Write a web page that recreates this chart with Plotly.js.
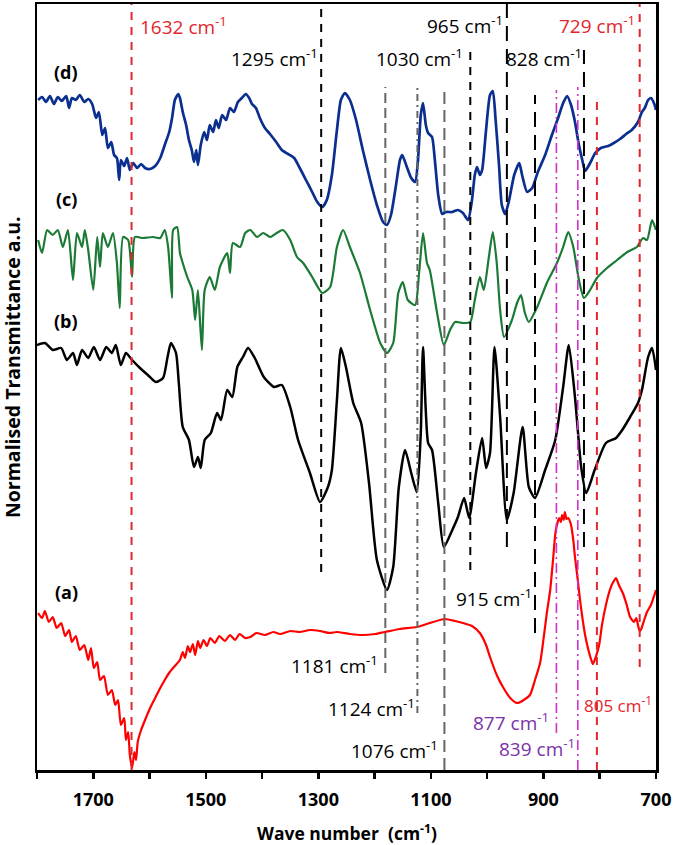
<!DOCTYPE html>
<html>
<head>
<meta charset="utf-8">
<script src="https://cdn.plot.ly/plotly-3.0.1.min.js"></script>
<style>html,body{margin:0;padding:0;background:#fff}#chart{width:675px;height:845px}</style>
</head>
<body>
<div id="chart"></div>
<script>
// ---------- DATA (wavenumber cm-1, normalised transmittance a.u., offset stacked) ----------
const dWn = [1798,1791,1784,1777,1770,1763,1756,1748,1743,1738,1731,1724,1716,1709,1702,1695,1690,1684,1679,1674,1668,1663,1658,1654,1651,1645,1640,1635,1629,1622,1615,1608,1599,1590,1581,1573,1565,1560,1555,1549,1546,1541,1535,1530,1525,1521,1517,1514,1509,1503,1498,1493,1487,1482,1477,1471,1464,1457,1450,1443,1436,1429,1423,1418,1411,1404,1395,1386,1375,1365,1354,1343,1333,1322,1311,1302,1293,1285,1276,1267,1260,1253,1244,1233,1221,1208,1196,1185,1178,1171,1162,1155,1151,1144,1135,1128,1123,1118,1114,1109,1105,1098,1093,1087,1080,1073,1062,1052,1043,1034,1027,1022,1018,1013,1009,1002,995,990,985,979,974,968,961,952,943,938,929,920,910,897,885,874,865,858,851,844,837,831,826,817,808,798,785,775,764,753,743,732,725,720,714,709,703,700];
const dT  = [67.0,67.3,66.8,67.4,66.6,67.3,66.9,67.4,66.2,67.2,67.0,67.5,66.8,67.1,66.6,65.2,65.8,63.5,64.2,62.2,62.8,61.5,61.2,59.0,61.0,60.4,61.2,60.0,60.7,60.2,60.6,60.2,60.1,60.4,61.2,62.5,63.8,65.2,67.0,67.6,67.2,65.8,64.5,63.0,62.0,60.8,62.0,60.5,62.5,63.8,63.0,64.5,63.8,65.0,64.2,65.5,65.0,66.2,65.8,66.8,67.2,67.6,67.2,66.6,66.2,65.2,64.2,63.6,62.8,62.0,61.6,61.2,60.2,59.0,57.8,56.8,56.3,57.0,59.5,64.0,67.0,67.7,67.0,65.0,62.0,59.0,56.5,54.8,54.5,55.5,58.5,61.0,61.5,60.5,59.2,58.8,61.0,65.5,66.7,64.5,63.7,63.3,61.0,57.5,55.6,55.8,55.8,56.0,55.7,55.0,57.0,59.5,60.3,59.5,60.0,64.0,67.5,67.9,65.0,60.5,56.5,55.6,57.0,59.5,60.7,59.5,57.8,58.2,59.8,61.5,63.5,65.2,66.7,67.4,66.5,64.8,62.5,61.0,59.9,60.7,61.7,62.2,62.4,62.7,63.1,63.6,64.0,64.8,65.8,66.2,67.0,67.2,66.6,66.0];

const cWn = [1798,1791,1782,1772,1763,1754,1745,1736,1729,1720,1715,1709,1700,1693,1688,1683,1674,1665,1658,1653,1647,1638,1631,1626,1612,1594,1581,1573,1567,1560,1558,1551,1546,1541,1533,1524,1519,1514,1507,1502,1493,1484,1475,1462,1457,1452,1439,1430,1421,1409,1398,1386,1374,1363,1350,1338,1327,1311,1293,1279,1267,1256,1244,1226,1208,1190,1178,1167,1158,1150,1141,1128,1121,1114,1107,1102,1089,1077,1066,1057,1043,1030,1022,1013,1006,997,990,983,977,970,956,947,940,933,926,911,894,876,865,856,847,837,828,817,805,787,769,751,734,723,716,707,700];
const cT  = [53.0,51.7,54.0,53.5,54.0,52.3,54.0,49.0,53.7,52.3,54.0,52.0,48.0,53.3,50.3,53.7,52.3,53.7,50.7,46.2,53.3,53.0,49.3,53.3,53.2,53.3,53.2,54.0,52.3,47.2,54.0,54.3,51.7,50.7,49.3,48.0,45.0,48.0,42.0,48.0,49.3,48.0,50.3,51.7,49.7,52.7,52.3,53.7,54.0,53.3,53.7,53.3,53.7,54.0,53.0,51.3,50.7,49.3,47.7,48.3,52.3,54.0,52.3,49.7,46.0,42.7,41.7,42.7,47.7,48.8,47.0,46.5,49.7,53.7,50.7,50.0,45.7,42.5,44.0,44.8,44.7,44.8,47.0,49.3,48.0,51.3,53.8,50.7,46.0,43.3,45.0,46.7,47.5,45.7,44.8,46.3,48.7,50.7,52.3,53.8,52.3,49.0,47.2,48.0,49.2,50.2,51.0,51.8,52.3,53.2,53.0,55.0,54.0];

const bWn = [1800,1786,1772,1757,1747,1736,1729,1720,1709,1699,1688,1677,1667,1660,1651,1642,1631,1617,1603,1589,1576,1568,1562,1553,1548,1541,1530,1521,1514,1509,1502,1491,1480,1473,1462,1453,1444,1434,1425,1413,1397,1379,1365,1350,1336,1315,1297,1283,1276,1267,1260,1251,1238,1224,1210,1196,1178,1167,1157,1146,1135,1125,1118,1114,1105,1098,1087,1077,1062,1052,1041,1032,1020,1009,1002,995,987,977,965,953,937,926,915,897,879,865,855,844,833,824,809,789,771,760,746,732,725,714,707,700];
const bT  = [42.5,42.7,42.0,42.2,41.0,41.7,40.5,42.0,41.2,42.3,41.0,42.3,41.7,42.5,40.5,41.7,41.0,40.2,39.5,38.8,39.2,41.3,42.7,41.7,38.7,34.3,33.0,30.3,31.3,30.2,33.0,33.7,35.7,35.0,38.0,37.3,40.3,41.3,42.2,41.2,39.3,38.3,38.5,36.3,33.0,29.7,26.8,28.3,30.0,37.0,42.2,40.3,36.7,34.7,28.7,21.0,18.0,20.3,28.3,32.0,29.7,27.8,33.7,42.3,32.7,32.0,26.7,22.3,24.0,25.3,27.2,25.2,29.7,33.2,30.2,31.7,42.3,35.3,25.0,27.7,34.3,28.3,27.2,30.0,33.0,38.3,42.5,37.3,30.3,27.7,30.0,32.7,33.2,34.0,35.3,36.7,38.0,41.3,42.2,40.0];

const aWn = [1798,1791,1786,1779,1772,1765,1757,1750,1743,1738,1731,1724,1716,1709,1704,1699,1693,1688,1681,1674,1667,1661,1656,1651,1645,1642,1638,1635,1631,1627,1624,1621,1615,1608,1599,1590,1581,1573,1564,1555,1546,1541,1537,1532,1528,1523,1519,1514,1510,1504,1498,1492,1484,1476,1466,1457,1448,1440,1430,1421,1410,1395,1380,1368,1350,1333,1315,1297,1280,1267,1244,1221,1199,1182,1155,1125,1102,1075,1057,1043,1027,1013,1002,995,983,972,959,947,935,924,915,906,899,894,888,883,878,872,869,867,864,862,859,856,851,847,844,839,835,831,826,821,815,812,807,801,796,789,782,777,771,766,759,752,746,739,735,732,729,727,721,716,709,704,700];
const aT  = [15.7,15.2,15.9,14.8,15.3,14.2,14.7,13.4,14.0,12.8,13.4,12.0,12.5,11.0,12.2,10.2,10.8,9.0,9.4,7.5,8.0,6.5,7.0,4.5,5.2,3.0,3.8,1.5,0.2,1.8,1.0,2.8,4.0,5.0,6.2,7.2,8.2,9.0,9.8,10.4,11.0,11.8,11.2,12.4,11.8,12.6,11.5,12.9,12.2,13.0,12.4,13.2,12.7,13.4,12.9,13.5,13.0,13.6,13.2,13.3,13.7,13.5,13.8,13.6,13.9,13.8,14.0,13.9,13.7,13.8,13.6,13.5,13.6,13.8,14.1,14.3,14.7,15.1,14.9,14.7,14.4,13.7,12.5,11.3,9.5,8.3,7.2,6.7,7.0,7.5,9.0,10.7,13.5,15.7,18.0,21.0,24.0,25.2,24.8,25.5,25.0,25.8,25.1,25.2,24.5,23.0,21.3,19.0,17.0,15.3,13.5,12.2,11.0,10.6,11.3,12.5,14.5,16.5,18.0,18.7,19.2,18.5,17.7,16.5,15.3,14.8,15.2,14.5,13.9,14.0,15.0,15.8,16.5,17.3,18.0];

// band markers (wavenumbers) and their labels
const bandWn    = [1632, 1295, 1181, 1124, 1076, 1030, 965, 915, 877, 839, 828, 805, 729];
const bandLabel = ['1632 cm<sup>-1</sup>','1295 cm<sup>-1</sup>','1181 cm<sup>-1</sup>','1124 cm<sup>-1</sup>','1076 cm<sup>-1</sup>','1030 cm<sup>-1</sup>','965 cm<sup>-1</sup>','915 cm<sup>-1</sup>','877 cm<sup>-1</sup>','839 cm<sup>-1</sup>','828 cm<sup>-1</sup>','805 cm<sup>-1</sup>','729 cm<sup>-1</sup>'];
const seriesNames = ['(d)','(c)','(b)','(a)'];
const xTickVals = [1800,1700,1600,1500,1400,1300,1200,1100,1000,900,800,700];
const xTickText = ['','1700','','1500','','1300','','1100','','900','','700'];

// ---------- STYLE / LAYOUT CONFIG ----------
const RED = '#e3262d', PURPLE = '#7a32a8', MAG = '#cc33cc', GREY = '#666666';
const bandStyle = {
  1632:{c:RED,d:'8px,7px',y0:0,y1:76.6, lx:1620,ly:74.4,la:'left',lc:RED,fs:19},
  1295:{c:'#000',d:'8px,7px',y0:19.8,y1:76.6, lx:1297,ly:71.2,la:'right',lc:'#000',fs:19},
  1181:{c:GREY,d:'10px,5px',y0:9.7,y1:68.3, lx:1190,ly:10.5,la:'right',lc:'#000',fs:19},
  1124:{c:GREY,d:'7px,4px,2px,4px',y0:5.7,y1:68.3, lx:1125,ly:6.2,la:'right',lc:'#000',fs:19},
  1076:{c:GREY,d:'12px,6px',y0:0,y1:68.3, lx:1084,ly:2.0,la:'right',lc:'#000',fs:19},
  1030:{c:'#000',d:'8px,7px',y0:20.0,y1:72.2, lx:1039,ly:71.2,la:'right',lc:'#000',fs:19},
  965: {c:'#000',d:'15px,8px',y0:22.3,y1:76.6, lx:968,ly:74.5,la:'right',lc:'#000',fs:19},
  915: {c:'#000',d:'15px,8px',y0:13.7,y1:67.5, lx:1059,ly:17.2,la:'left',lc:'#000',fs:19},
  877: {c:MAG,d:'10px,4px,2px,4px',y0:3.7,y1:68.0, lx:886,ly:4.8,la:'right',lc:PURPLE,fs:19},
  839: {c:MAG,d:'10px,4px,2px,4px',y0:0,y1:68.3, lx:840,ly:2.2,la:'right',lc:PURPLE,fs:19},
  828: {c:'#000',d:'15px,8px',y0:22.3,y1:72.0, lx:828,ly:71.2,la:'right',lc:'#000',fs:19},
  805: {c:RED,d:'8px,7px',y0:0,y1:67.3, lx:831,ly:6.6,la:'left',lc:RED,fs:17},
  729: {c:RED,d:'8px,7px',y0:10.3,y1:76.6, lx:733,ly:74.5,la:'right',lc:RED,fs:19}
};
const seriesLabelPos = [[1748,69.8],[1748,57.1],[1748,44.9],[1748,17.8]];

const FONT = 'Open Sans, DejaVu Sans, sans-serif';
const SM = {shape:'spline',smoothing:0.6};

const traces = [
  {x:dWn,y:dT,mode:'lines',line:Object.assign({color:'#0b2f8f',width:2.7},SM),name:'(d)'},
  {x:cWn,y:cT,mode:'lines',line:Object.assign({color:'#1b7a35',width:2.2},SM),name:'(c)'},
  {x:bWn,y:bT,mode:'lines',line:Object.assign({color:'#000000',width:2.5},SM),name:'(b)'},
  {x:aWn,y:aT,mode:'lines',line:Object.assign({color:'#ff0000',width:2.2},SM),name:'(a)'}
];

const shapes = bandWn.map(w => {
  const s = bandStyle[w];
  return {type:'line',xref:'x',yref:'y',x0:w,x1:w,y0:s.y0,y1:s.y1,
          line:{color:s.c,width:s.c===MAG?1.6:2,dash:s.d},layer:'above'};
});

const annotations = bandWn.map((w,i) => {
  const s = bandStyle[w];
  return {xref:'x',yref:'y',x:s.lx,y:s.ly,text:bandLabel[i],showarrow:false,
          xanchor:s.la,yanchor:'middle',font:{family:FONT,size:s.fs,color:s.lc}};
});
seriesNames.forEach((n,i)=>{
  annotations.push({xref:'x',yref:'y',x:seriesLabelPos[i][0],y:seriesLabelPos[i][1],text:'<b>'+n+'</b>',
    showarrow:false,xanchor:'center',yanchor:'middle',font:{family:FONT,size:18,color:'#000'}});
});
annotations.push({xref:'paper',yref:'paper',x:-0.0404,y:0.526,text:'<b>Normalised Transmittance a.u.</b>',
  textangle:-90,showarrow:false,xanchor:'center',yanchor:'middle',font:{family:FONT,size:19.5,color:'#000'}});
annotations.push({xref:'paper',yref:'paper',x:0.5,y:-0.082,text:'<b>Wave number  (cm<sup>-1</sup>)</b>',
  showarrow:false,xanchor:'center',yanchor:'middle',font:{family:FONT,size:17.5,color:'#000'}});

const layout = {
  width:675,height:845,
  margin:{l:37,r:19,t:4,b:75},
  paper_bgcolor:'#fff',plot_bgcolor:'#fff',
  showlegend:false,
  xaxis:{range:[1800,700],showgrid:false,zeroline:false,showline:true,mirror:true,linecolor:'#000',linewidth:2.5,
    tickmode:'array',tickvals:xTickVals,ticktext:xTickText,ticks:'outside',ticklen:6,tickwidth:2.5,tickcolor:'#000',
    ticklabelstandoff:6,
    tickfont:{family:FONT,size:18,color:'#000',weight:'bold'}},
  yaxis:{range:[0,76.6],showgrid:false,zeroline:false,showline:true,mirror:true,linecolor:'#000',linewidth:2.5,
    ticks:'',showticklabels:false},
  shapes:shapes,
  annotations:annotations
};

Plotly.newPlot('chart',traces,layout,{displayModeBar:false,staticPlot:true});
</script>
</body>
</html>
